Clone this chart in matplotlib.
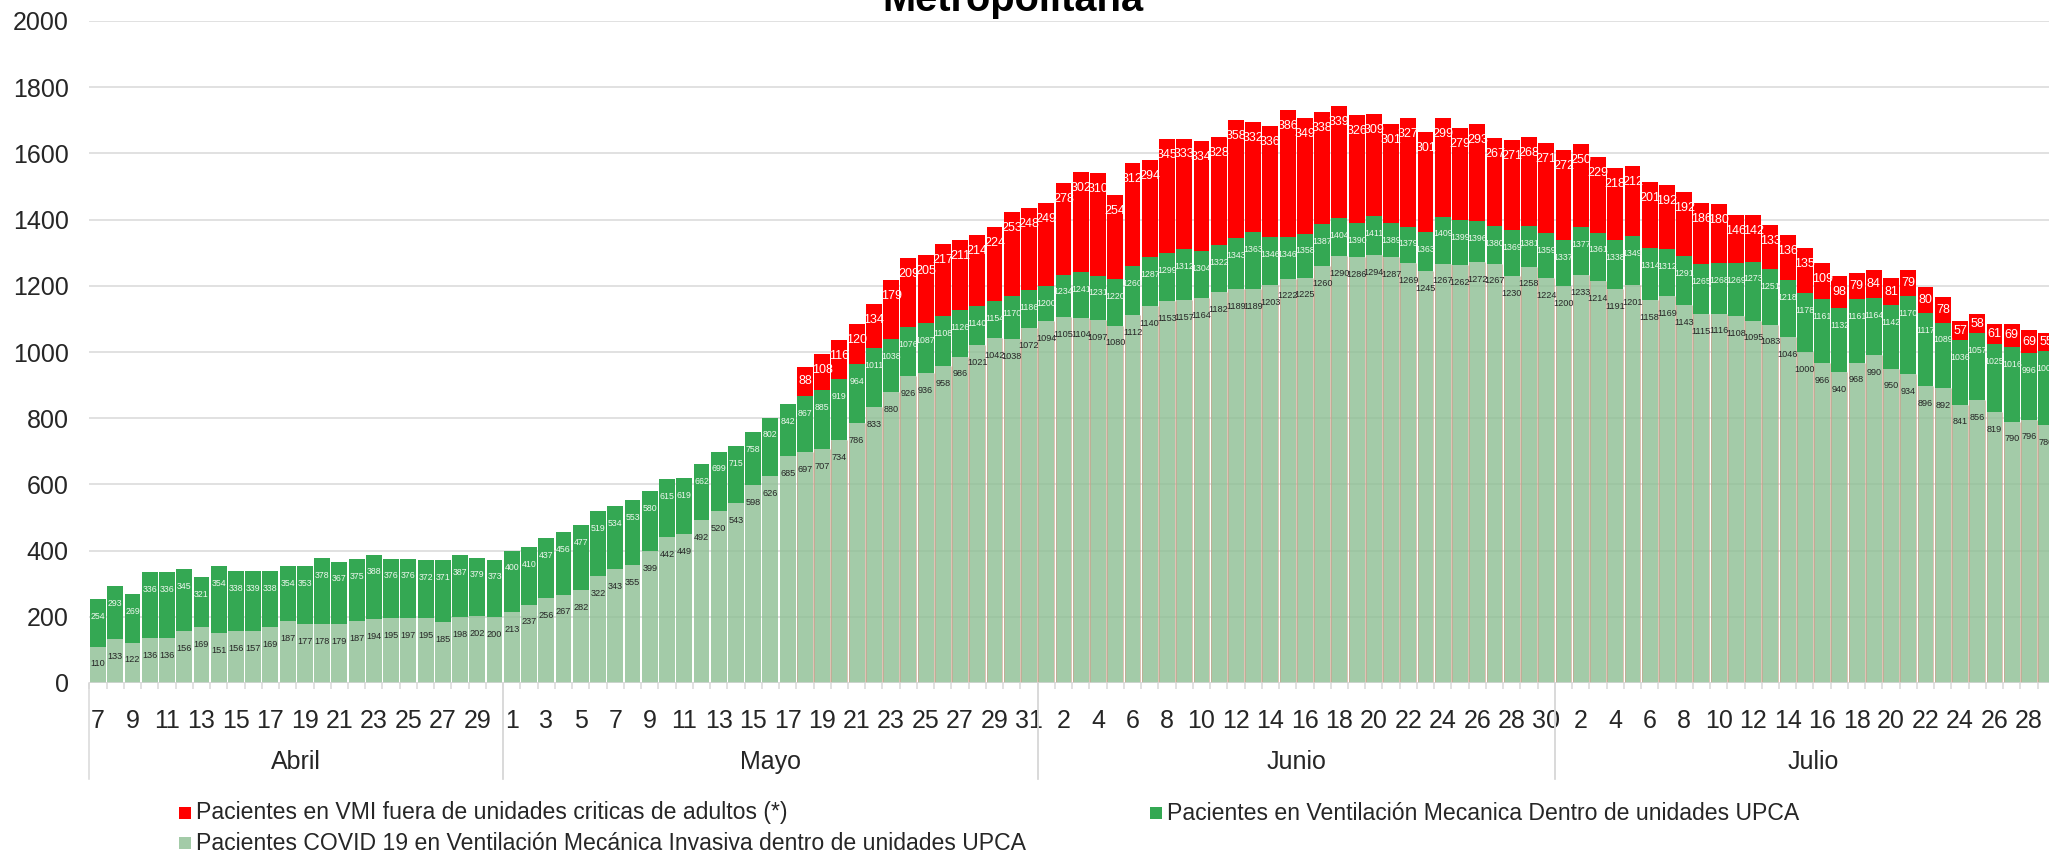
import numpy as np
import pandas as pd
import matplotlib
matplotlib.use("Agg")
import matplotlib.pyplot as plt
from matplotlib.patches import Rectangle
from matplotlib.transforms import blended_transform_factory

plt.rcParams['font.family'] = ['Liberation Sans', 'DejaVu Sans']

# ---------------- data ----------------
# category axis: one bar per day, 7 Apr .. 30 Jul
dates = pd.date_range('2020-04-07', '2020-07-30', freq='D')
month_names = {4: 'Abril', 5: 'Mayo', 6: 'Junio', 7: 'Julio'}

# Pacientes COVID 19 en VMI dentro de unidades UPCA (light green)
covid_upca = [
    110, 133, 122, 136, 136, 156, 169, 151, 156, 157, 169, 187, 177, 178, 179, 187, 194, 195, 197, 195, 185, 198, 202, 200,
    213, 237, 256, 267, 282, 322, 343, 355, 399, 442, 449, 492, 520, 543, 598, 626, 685, 697, 707, 734, 786, 833, 880, 926,
    936, 958, 986, 1021, 1042, 1038, 1072,
    1094, 1105, 1104, 1097, 1080, 1112, 1140, 1153, 1157, 1164, 1182, 1189, 1189, 1203, 1222, 1225, 1260, 1290, 1286, 1294,
    1287, 1269, 1245, 1267, 1262, 1272, 1267, 1230, 1258, 1224,
    1200, 1233, 1214, 1191, 1201, 1158, 1169, 1143, 1115, 1116, 1108, 1095, 1083, 1046, 1000, 966, 940, 968, 990, 950,
    934, 896, 892, 841, 856, 819, 790, 796, 780,
]
# Pacientes en Ventilación Mecanica dentro de unidades UPCA (green, total)
vm_upca = [
    254, 293, 269, 336, 336, 345, 321, 354, 338, 339, 338, 354, 353, 378, 367, 375, 388, 376, 376, 372, 371, 387, 379, 373,
    400, 410, 437, 456, 477, 519, 534, 553, 580, 615, 619, 662, 699, 715, 758, 802, 842, 867, 885, 919, 964, 1011, 1038,
    1076, 1087, 1108, 1126, 1140, 1154, 1170, 1186,
    1200, 1234, 1241, 1231, 1220, 1260, 1287, 1299, 1312, 1304, 1322, 1343, 1363, 1346, 1346, 1358, 1387, 1404, 1390, 1411,
    1389, 1379, 1363, 1409, 1399, 1396, 1380, 1369, 1381, 1359,
    1337, 1377, 1361, 1338, 1349, 1314, 1312, 1291, 1265, 1268, 1269, 1273, 1251, 1218, 1178, 1161, 1132, 1161, 1164, 1142,
    1170, 1117, 1089, 1036, 1057, 1025, 1016, 996, 1003,
]
# Pacientes en VMI fuera de unidades criticas de adultos (red)
vmi_fuera = [0] * 24 + [0] * 17 + [
    88, 108, 116, 120, 134, 179, 209, 205, 217, 211, 214, 224, 253, 248,
    249, 278, 302, 310, 254, 312, 294, 345, 333, 334, 328, 358, 332, 336, 386, 349, 338, 339, 326, 309,
    301, 327, 301, 299, 279, 293, 267, 271, 268, 271,
    272, 250, 229, 218, 212, 201, 192, 192, 186, 180, 146, 142, 133, 136, 135, 109, 98, 79, 84, 81,
    79, 80, 78, 57, 58, 61, 69, 69, 55,
]

legend_labels = [
    'Pacientes en VMI fuera de unidades criticas de adultos (*)',
    'Pacientes en Ventilación Mecanica Dentro de unidades UPCA',
    'Pacientes COVID 19 en Ventilación Mecánica Invasiva dentro de unidades UPCA',
]
yticks = list(range(0, 2001, 200))

# ---------------- style ----------------
C_RED = '#ff0000'
C_GREEN = '#34a853'
C_LIGHT = (140 / 255, 190 / 255, 147 / 255, 0.8)
C_GRID = '#d9d9d9'
C_TEXT = '#262626'

W, H = 2049, 856
fig = plt.figure(figsize=(W / 100, H / 100), dpi=100)
fig.patch.set_facecolor('white')

n = len(dates)
x = np.arange(len(covid_upca))
light = np.array(covid_upca, float)
green = np.array(vm_upca, float)
red = np.array(vmi_fuera, float)

ax_left, ax_right = 89.4, 2072.1
ax_bottom, ax_top = 683, 21
ax = fig.add_axes([ax_left / W, (H - ax_bottom) / H, (ax_right - ax_left) / W, (ax_bottom - ax_top) / H])
ax.set_xlim(-0.5, n - 0.5)
ax.set_ylim(0, 2000)
for s in ax.spines.values():
    s.set_visible(False)
ax.set_axisbelow(True)
ax.yaxis.grid(True, color=C_GRID, lw=1.1)
ax.set_yticks(yticks)
ax.set_yticklabels([str(v) for v in yticks])
ax.tick_params(axis='y', length=0, pad=15, labelsize=18, labelcolor=C_TEXT)

bw = 0.92
ax.bar(x, green - light, bottom=light, width=bw, color=C_GREEN, linewidth=0, zorder=2)
ax.bar(x, light, width=bw, color=C_LIGHT, linewidth=0, zorder=2)
ax.bar(x, red, bottom=green, width=bw, color=C_RED, linewidth=0, zorder=2)

# faint reddish edge lines on the light bars of days with patients outside UPCA
has_red = red > 0
edge_col = (205 / 255, 160 / 255, 140 / 255, 0.65)
for side in (-1, 1):
    ax.vlines(x[has_red] + side * bw / 2, 0, light[has_red], colors=[edge_col], lw=0.7, zorder=2.5)

# data labels
for i in x:
    ax.annotate(str(int(light[i])), (i, light[i]), xytext=(0, -12.5), textcoords='offset points',
                ha='center', va='center', fontsize=6.6, color=C_TEXT, zorder=5)
    ax.annotate(str(int(green[i])), (i, green[i]), xytext=(0, -12.5), textcoords='offset points',
                ha='center', va='center', fontsize=6.3, color='#eef7ee', zorder=5)
    if red[i] > 0:
        top = green[i] + red[i]
        off = min(11.5, red[i] * 0.331 / 2 * 0.72)
        ax.annotate(str(int(red[i])), (i, top), xytext=(0, -off), textcoords='offset points',
                    ha='center', va='center', fontsize=9, color='white', zorder=5)

ax.axhline(0, color=C_GRID, lw=1.1, zorder=3)

# category axis: days
ax.set_xticks(np.arange(0, n, 2))
ax.set_xticklabels([str(d.day) for d in dates[::2]])
ax.set_xticks(np.arange(-0.5, n, 1), minor=True)
ax.tick_params(axis='x', which='major', length=0, pad=19, labelsize=18, labelcolor=C_TEXT)
ax.tick_params(axis='x', which='minor', length=4, width=1.1, color=C_GRID)

# month level
trans = blended_transform_factory(ax.transData, ax.transAxes)
months = pd.Series(np.arange(n), index=dates).groupby(dates.month)
sep_depth = -(779 - 683) / 662
for m, idx in months:
    lo, hi = idx.min() - 0.5, idx.max() + 0.5
    ax.text((lo + hi) / 2, -(762 - 683) / 662, month_names[m], transform=trans,
            ha='center', va='center', fontsize=18, color=C_TEXT, clip_on=False)
    for b in (lo, hi):
        ax.plot([b, b], [0, sep_depth], transform=trans, color=C_GRID, lw=1.1, clip_on=False)

# title (partly cut off at top, as in the reference)
fig.text(1013 / W, 1 - 11 / H, 'Metropolitana', ha='center', va='baseline',
         fontsize=28.7, fontweight='bold', color='black')

# legend
leg_items = [
    (C_RED, legend_labels[0], 179, 813),
    (C_GREEN, legend_labels[1], 1150, 813),
    (C_LIGHT, legend_labels[2], 179, 843),
]
sq = 12
for col, lab, lx, ly in leg_items:
    fig.patches.append(Rectangle(((lx) / W, (H - ly - sq / 2) / H), sq / W, sq / H,
                                 transform=fig.transFigure, facecolor=col, edgecolor='none'))
    fig.text((lx + sq + 5) / W, (H - ly) / H, lab, ha='left', va='center', fontsize=16.6, color=C_TEXT)

fig.savefig('out.png', dpi=100, facecolor='white')
